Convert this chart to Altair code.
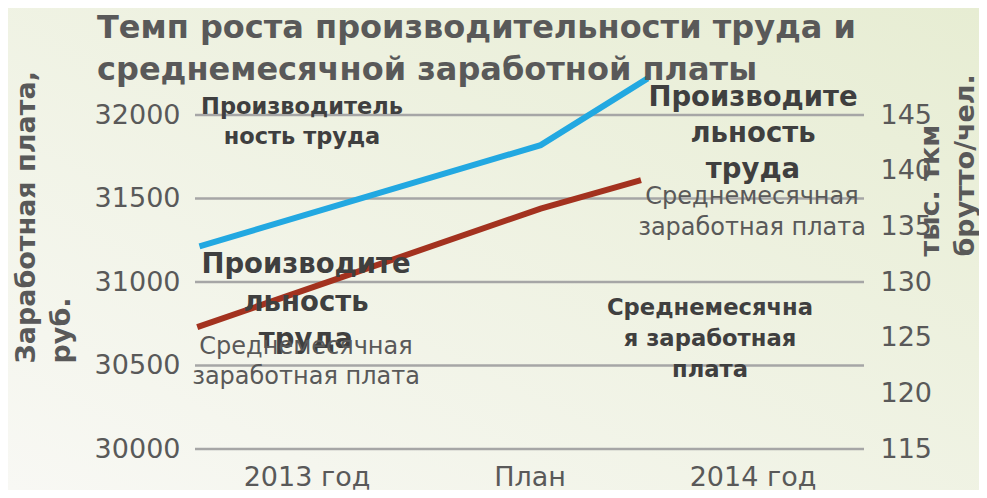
import json
import altair as alt
import pandas as pd

# ---------------- data ----------------
categories = ["2013 год", "План", "2014 год"]
x_ticks = [0.5, 1.5, 2.5]

salary_x = [0.01, 1.55, 2.0]
salary = [30730, 31440, 31610]

productivity_x = [0.02, 1.55, 2.03]
productivity = [133.2, 142.3, 148.3]

left_ticks = [30000, 30500, 31000, 31500, 32000]
right_ticks = [115, 120, 125, 130, 135, 140, 145]

title_lines = ["Темп роста производительности труда и", "среднемесячной заработной платы"]
left_axis_title = ["Заработная плата,", "руб."]
right_axis_title = ["тыс. ткм", "брутто/чел."]
note_prod_small = ["Производитель", "ность труда"]
note_prod_big = ["Производите", "льность", "труда"]
note_salary_plain = ["Среднемесячная", "заработная плата"]
note_salary_bold = ["Среднемесячна", "я заработная", "плата"]

# ---------------- layout / style ----------------
FONT = "DejaVu Sans"
GRAY = "#595959"
DARK = "#3f3f3f"
BLUE = "#22a8e1"
BROWN = "#a3321f"
GRID = "#a6a6a6"

W, H = 669, 374
PAD_L, PAD_T = 187, 67
PAD_R, PAD_B = 971 - PAD_L - W, 482 - PAD_T - H
OX, OY = PAD_L + 8, PAD_T + 8  # plot origin on the page

df_sal = pd.DataFrame({"x": salary_x, "v": salary})
df_prod = pd.DataFrame({"x": productivity_x, "v": productivity})
df_grid = pd.DataFrame({"v": left_ticks})
dummy = pd.DataFrame({"k": [0]})

x_scale = alt.Scale(domain=[0, 3], nice=False, zero=False)
left_scale = alt.Scale(domain=[30000, 32240], nice=False, zero=False)
right_scale = alt.Scale(domain=[115, 148.6], nice=False, zero=False)

x_axis = alt.Axis(
    values=x_ticks,
    labelExpr=f"{json.dumps(categories, ensure_ascii=False)}[floor(datum.value)]",
    grid=False, domain=False, ticks=False, title=None, zindex=2,
    labelFont=FONT, labelFontSize=27, labelColor=GRAY, labelPadding=15,
)

left_axis = alt.Axis(
    orient="left", values=left_ticks, grid=False, domain=False, ticks=False,
    format="d", labelFont=FONT, labelFontSize=27, labelColor=GRAY, labelPadding=15,
    title=left_axis_title, titleFont=FONT, titleFontSize=27, titleFontWeight="bold",
    titleColor=GRAY, titleAngle=-90, titleAlign="left", titleBaseline="top",
    titleLineHeight=35, titleX=13 - OX, titleY=363 - OY, zindex=2,
)

right_axis = alt.Axis(
    orient="right", values=right_ticks, grid=False, domain=False, ticks=False,
    format="d", labelFont=FONT, labelFontSize=27, labelColor=GRAY, labelPadding=16,
    title=right_axis_title, titleFont=FONT, titleFontSize=27, titleFontWeight="bold",
    titleColor=GRAY, titleAngle=-90, titleAlign="left", titleBaseline="top",
    titleLineHeight=35, titleX=917 - (OX + W), titleY=256 - OY, zindex=2,
)

bg = alt.Chart(dummy).mark_rect(
    fill=alt.LinearGradient(
        gradient="linear",
        stops=[alt.GradientStop(color="#f8f8f4", offset=0),
               alt.GradientStop(color="#e7edd3", offset=1)],
        x1=0, y1=1, x2=1, y2=0,
    ),
    stroke=None,
).encode(
    x=alt.value(-PAD_L), x2=alt.value(W + PAD_R),
    y=alt.value(-PAD_T), y2=alt.value(H + PAD_B),
)

grid = alt.Chart(df_grid).mark_rule(color=GRID, strokeWidth=2.5).encode(
    y=alt.Y("v:Q", scale=left_scale, axis=left_axis),
    x=alt.value(0), x2=alt.value(W),
)

sal_line = alt.Chart(df_sal).mark_line(color=BROWN, strokeWidth=6).encode(
    x=alt.X("x:Q", scale=x_scale, axis=x_axis),
    y=alt.Y("v:Q", scale=left_scale, axis=left_axis),
)

prod_line = alt.Chart(df_prod).mark_line(color=BLUE, strokeWidth=6).encode(
    x=alt.X("x:Q", scale=x_scale, axis=x_axis),
    y=alt.Y("v:Q", scale=right_scale, axis=right_axis),
)


def note(lines, cx, first_cy, size, bold, lh, color):
    return alt.Chart(dummy).mark_text(
        font=FONT, fontSize=size, fontWeight="bold" if bold else "normal",
        lineHeight=lh, align="center", baseline="middle", color=color,
    ).encode(x=alt.value(cx - OX), y=alt.value(first_cy - OY), text=alt.value(lines))


notes = [
    note(note_prod_small, 302, 107, 22.5, True, 30, DARK),
    note(note_prod_big, 306, 265, 27.5, True, 37.5, DARK),
    note(note_salary_plain, 306, 347, 24, False, 30, GRAY),
    note(note_prod_big, 753, 98, 27.5, True, 36, DARK),
    note(note_salary_plain, 752, 197, 24, False, 31, GRAY),
    note(note_salary_bold, 710, 308, 22.7, True, 31, DARK),
]

left_layer = alt.layer(grid, sal_line)

chart = alt.layer(bg, left_layer, prod_line, *notes).resolve_scale(
    y="independent"
).properties(
    width=W, height=H,
    autosize=alt.AutoSizeParams(type="none"),
    padding={"left": PAD_L, "top": PAD_T, "right": PAD_R, "bottom": PAD_B},
    background="#f3f5ea",
    title=alt.TitleParams(
        text=title_lines, anchor="start", frame="group", dx=97 - OX, dy=79,
        font=FONT, fontSize=32, fontWeight="bold", color=GRAY, lineHeight=42,
        offset=0, zindex=3,
    ),
).configure_view(stroke=None)

chart.save("out.html", embed_options={"renderer": "svg", "actions": False})
